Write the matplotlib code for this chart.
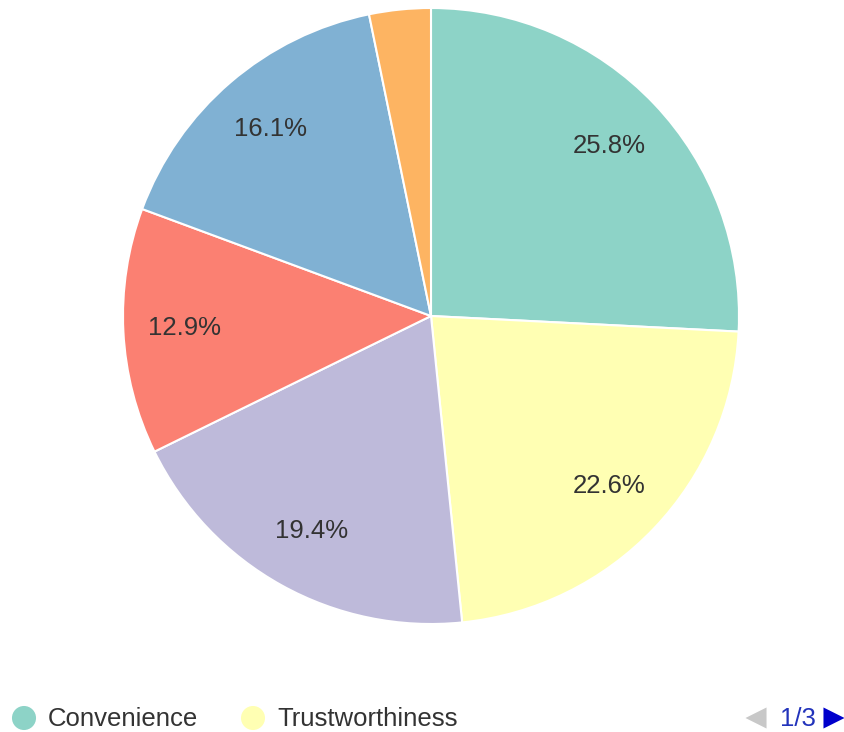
import matplotlib.pyplot as plt

plt.rcParams['font.family'] = ['Liberation Sans', 'DejaVu Sans']

# Share of responses per reason
categories = ['Convenience', 'Trustworthiness', 'Price', 'Quality', 'Service', 'Other']
counts = [8, 7, 6, 4, 5, 1]
colors = ['#8dd3c7', '#ffffb3', '#bebada', '#fb8072', '#80b1d3', '#fdb462']

fig = plt.figure(figsize=(8.45, 7.32), dpi=100)
ax = fig.add_axes([0, 0, 1, 1])


def pct_label(p):
    return f'{p:.1f}%' if p >= 5 else ''


ax.pie(counts, colors=colors, startangle=90, counterclock=False,
       center=(431, 416), radius=308, frame=True,
       autopct=pct_label, pctdistance=0.8,
       wedgeprops=dict(edgecolor='white', linewidth=1.5),
       textprops=dict(color='#333333', fontsize=18.5))
ax.set_xlim(0, 845)
ax.set_ylim(0, 732)
ax.set_aspect('equal')
ax.axis('off')

# legend, first page of categories
legend_x = [24, 253]
for x, c, name in zip(legend_x, colors[:2], categories[:2]):
    ax.scatter([x], [14], s=300, color=c, edgecolors='none', clip_on=False)
    ax.text(x + 24, 13, name, color='#333333', fontsize=18.5, va='center')

# pager
ax.scatter([756], [14], marker='<', s=230, color='#c8c8c8', edgecolors='none')
ax.text(780, 13, '1/3', color='#2233bb', fontsize=18.5, va='center')
ax.scatter([834], [14], marker='>', s=230, color='#0000cc', edgecolors='none',
           clip_on=False)

fig.savefig('out.png', dpi=100)
